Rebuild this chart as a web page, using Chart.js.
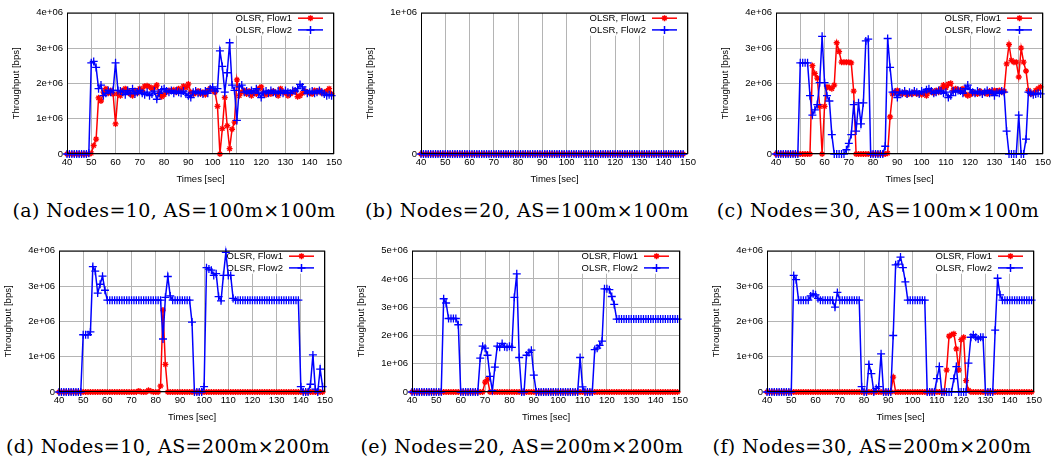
<!DOCTYPE html>
<html>
<head>
<meta charset="utf-8">
<script src="https://cdn.jsdelivr.net/npm/chart.js@4/dist/chart.umd.min.js"></script>
<style>
body { margin: 0; background: #fff; width: 1062px; height: 466px; position: relative; overflow: hidden; }
canvas { position: absolute; }
.cap { position: absolute; font-family: "DejaVu Serif", serif; font-size: 19px; letter-spacing: 0.4px;
       white-space: nowrap; transform: translateX(-50%); color: #000; line-height: 22px; }
</style>
</head>
<body>
<script>
// sample times [sec]
const times = [
  40, 41, 42, 43, 44, 45, 46, 47, 48, 49,
  50, 51, 52, 53, 54, 55, 56, 57, 58, 59,
  60, 61, 62, 63, 64, 65, 66, 67, 68, 69,
  70, 71, 72, 73, 74, 75, 76, 77, 78, 79,
  80, 81, 82, 83, 84, 85, 86, 87, 88, 89,
  90, 91, 92, 93, 94, 95, 96, 97, 98, 99,
  100, 101, 102, 103, 104, 105, 106, 107, 108, 109,
  110, 111, 112, 113, 114, 115, 116, 117, 118, 119,
  120, 121, 122, 123, 124, 125, 126, 127, 128, 129,
  130, 131, 132, 133, 134, 135, 136, 137, 138, 139,
  140, 141, 142, 143, 144, 145, 146, 147, 148, 149
];

// throughput values, in units of 1e+06 bps
const aFlow1 = [
  0, 0, 0, 0, 0, 0, 0, 0, 0, 0,
  0.02, 0.24, 0.42, 1.59, 1.5, 1.75, 1.85, 1.72, 1.8, 1.7,
  0.85, 1.7, 1.65, 1.8, 1.85, 1.78, 1.7, 1.65, 1.8, 1.72,
  1.85, 1.8, 1.92, 1.93, 1.9, 1.85, 1.88, 1.95, 1.7, 1.62,
  1.68, 1.75, 1.8, 1.78, 1.82, 1.75, 1.85, 1.8, 1.92, 1.88,
  1.98, 1.75, 1.7, 1.72, 1.78, 1.7, 1.75, 1.68, 1.8, 1.85,
  1.8, 1.75, 1.35, 0, 0.72, 1.6, 0.8, 0.15, 0.7, 0.9,
  2.1, 1.65, 1.75, 1.8, 1.7, 1.78, 1.65, 1.75, 1.7, 1.85,
  1.9, 1.72, 1.68, 1.75, 1.7, 1.78, 1.72, 1.65, 1.85, 1.75,
  1.72, 1.65, 1.7, 1.75, 1.8, 1.62, 1.65, 1.72, 1.78, 1.75,
  1.72, 1.7, 1.8, 1.75, 1.8, 1.72, 1.75, 1.78, 1.85, 1.7
];
const aFlow2 = [
  0, 0, 0, 0, 0, 0, 0, 0, 0, 0.02,
  2.58, 2.62, 2.45, 1.85, 1.95, 1.65, 1.72, 1.8, 1.75, 1.8,
  2.58, 1.8, 1.78, 1.75, 1.68, 1.8, 1.72, 1.85, 1.7, 1.75,
  1.8, 1.72, 1.68, 1.75, 1.65, 1.7, 1.78, 1.55, 1.72, 1.82,
  1.85, 1.78, 1.75, 1.8, 1.72, 1.78, 1.75, 1.72, 1.78, 1.7,
  1.65, 1.6, 1.75, 1.78, 1.72, 1.75, 1.7, 1.78, 1.72, 1.85,
  1.9, 1.78, 1.85, 2.92, 2.48, 1.75, 2.3, 3.15, 1.95, 1.8,
  0.95, 1.9, 1.95, 1.75, 1.78, 1.72, 1.8, 1.75, 1.85, 1.72,
  1.6, 1.75, 1.78, 1.72, 1.8, 1.75, 1.72, 1.78, 1.75, 1.72,
  1.8, 1.75, 1.72, 1.8, 1.78, 1.85, 1.97, 1.9, 1.8, 1.72,
  1.75, 1.78, 1.72, 1.75, 1.8, 1.75, 1.7, 1.65, 1.68, 1.65
];

const bFlow1 = [
  0, 0, 0, 0, 0, 0, 0, 0, 0, 0,
  0, 0, 0, 0, 0, 0, 0, 0, 0, 0,
  0, 0, 0, 0, 0, 0, 0, 0, 0, 0,
  0, 0, 0, 0, 0, 0, 0, 0, 0, 0,
  0, 0, 0, 0, 0, 0, 0, 0, 0, 0,
  0, 0, 0, 0, 0, 0, 0, 0, 0, 0,
  0, 0, 0, 0, 0, 0, 0, 0, 0, 0,
  0, 0, 0, 0, 0, 0, 0, 0, 0, 0,
  0, 0, 0, 0, 0, 0, 0, 0, 0, 0,
  0, 0, 0, 0, 0, 0, 0, 0, 0, 0,
  0, 0, 0, 0, 0, 0, 0, 0, 0
];
const bFlow2 = [
  0, 0, 0, 0, 0, 0, 0, 0, 0, 0,
  0, 0, 0, 0, 0, 0, 0, 0, 0, 0,
  0, 0, 0, 0, 0, 0, 0, 0, 0, 0,
  0, 0, 0, 0, 0, 0, 0, 0, 0, 0,
  0, 0, 0, 0, 0, 0, 0, 0, 0, 0,
  0, 0, 0, 0, 0, 0, 0, 0, 0, 0,
  0, 0, 0, 0, 0, 0, 0, 0, 0, 0,
  0, 0, 0, 0, 0, 0, 0, 0, 0, 0,
  0, 0, 0, 0, 0, 0, 0, 0, 0, 0,
  0, 0, 0, 0, 0, 0, 0, 0, 0, 0,
  0, 0, 0, 0, 0, 0, 0, 0, 0
];

const cFlow1 = [
  0, 0, 0, 0, 0, 0, 0, 0, 0, 0,
  0, 0, 0, 0, 0, 2.5, 2.28, 2.15, 1.35, 0,
  1.35, 1.9, 1.88, 1.85, 1.95, 3.15, 2.9, 2.6, 2.6, 2.6,
  2.6, 2.58, 1.78, 0, 0, 0, 0, 0, 0, 0,
  0, 0, 0, 0, 0, 0, 0.02, 1.05, 1.7, 1.75,
  1.8, 1.72, 1.7, 1.75, 1.68, 1.72, 1.7, 1.75, 1.7, 1.72,
  1.68, 1.72, 1.65, 1.75, 1.78, 1.72, 1.8, 1.75, 1.85, 1.95,
  1.88, 1.98, 2.0, 1.8, 1.85, 1.82, 1.78, 1.85, 1.7, 1.65,
  1.68, 1.75, 1.72, 1.7, 1.78, 1.72, 1.75, 1.7, 1.78, 1.72,
  1.8, 1.78, 1.8, 1.75, 1.78, 2.55, 3.1, 2.65, 2.6, 2.6,
  2.18, 3.0, 2.6, 2.35, 1.8, 1.7, 1.72, 1.8, 1.85, 1.9
];
const cFlow2 = [
  0, 0, 0, 0, 0, 0, 0, 0, 0, 0,
  2.58, 2.58, 2.58, 2.58, 1.65, 1.1, 1.25, 1.4, 2.02, 3.33,
  2.02, 1.65, 1.5, 0.55, 0, 0, 0, 0, 0, 0.12,
  0.3, 0.55, 1.4, 0.65, 1.45, 0.85, 1.45, 3.2, 3.25, 0,
  0, 0, 0, 0, 0, 0.22, 3.27, 2.45, 1.75, 1.75,
  1.6, 1.75, 1.72, 1.78, 1.7, 1.75, 1.72, 1.78, 1.75, 1.7,
  1.78, 1.75, 1.82, 1.85, 1.78, 1.72, 1.75, 1.8, 1.78, 1.72,
  1.75, 1.6, 1.65, 1.78, 1.75, 1.8, 1.78, 1.72, 1.85, 1.95,
  1.82, 1.75, 1.72, 1.78, 1.75, 1.7, 1.75, 1.8, 1.72, 1.78,
  1.65, 1.75, 1.72, 1.78, 1.75, 0.65, 0, 0, 0, 0,
  1.1, 0, 0, 0.42, 1.75, 1.72, 1.68, 1.7, 1.72, 1.7
];

const dFlow1 = [
  0, 0, 0, 0, 0, 0, 0, 0, 0, 0,
  0, 0, 0, 0, 0, 0, 0, 0, 0, 0,
  0, 0, 0, 0, 0, 0, 0, 0, 0, 0,
  0, 0, 0, 0.03, 0, 0, 0, 0.05, 0.02, 0,
  0, 0, 0.17, 2.32, 0.78, 0, 0, 0, 0, 0,
  0, 0, 0, 0, 0, 0, 0, 0, 0, 0,
  0, 0, 0, 0, 0, 0, 0, 0, 0, 0,
  0, 0, 0, 0, 0, 0, 0, 0, 0, 0,
  0, 0, 0, 0, 0, 0, 0, 0, 0, 0,
  0, 0, 0, 0, 0, 0, 0, 0, 0, 0,
  0, 0, 0, 0, 0, 0, 0, 0, 0, 0
];
const dFlow2 = [
  0, 0, 0, 0, 0, 0, 0, 0, 0, 0,
  1.62, 1.62, 1.62, 1.7, 3.55, 3.42, 2.8, 3.05, 3.28, 2.88,
  2.6, 2.6, 2.6, 2.6, 2.6, 2.6, 2.6, 2.6, 2.6, 2.6,
  2.6, 2.6, 2.6, 2.6, 2.6, 2.6, 2.6, 2.6, 2.6, 2.6,
  2.6, 2.6, 2.6, 1.5, 2.68, 3.27, 2.72, 2.6, 2.6, 2.6,
  2.6, 2.6, 2.6, 2.6, 2.6, 1.98, 0, 0, 0, 0,
  0.15, 3.52, 3.48, 3.45, 3.3, 3.35, 2.7, 2.58, 3.3, 3.95,
  3.3, 3.3, 2.65, 2.6, 2.6, 2.6, 2.6, 2.6, 2.6, 2.6,
  2.6, 2.6, 2.6, 2.6, 2.6, 2.6, 2.6, 2.6, 2.6, 2.6,
  2.6, 2.6, 2.6, 2.6, 2.6, 2.6, 2.6, 2.6, 2.6, 2.6,
  0.15, 0, 0, 0, 0.22, 1.05, 0.08, 0, 0.65, 0.15
];

const eFlow1 = [
  0, 0, 0, 0, 0, 0, 0, 0, 0, 0,
  0, 0, 0, 0, 0, 0, 0, 0, 0, 0,
  0, 0, 0, 0, 0, 0, 0, 0, 0, 0,
  0.35, 0.45, 0, 0, 0, 0, 0, 0, 0, 0,
  0, 0, 0, 0, 0, 0, 0, 0, 0, 0,
  0, 0, 0, 0, 0, 0, 0, 0, 0, 0,
  0, 0, 0, 0, 0, 0, 0, 0, 0, 0,
  0, 0, 0, 0, 0, 0, 0, 0, 0, 0,
  0, 0, 0, 0, 0, 0, 0, 0, 0, 0,
  0, 0, 0, 0, 0, 0, 0, 0, 0, 0,
  0, 0, 0, 0, 0, 0, 0, 0, 0, 0
];
const eFlow2 = [
  0, 0, 0, 0, 0, 0, 0, 0, 0, 0,
  0, 0, 0, 3.3, 3.15, 2.6, 2.6, 2.6, 2.6, 2.38,
  0, 0, 0, 0, 0, 0, 0, 0, 1.2, 1.62,
  1.55, 1.3, 0.55, 0.05, 0.88, 1.62, 1.58, 1.72, 1.6, 1.58,
  1.62, 1.58, 3.35, 4.18, 1.22, 0, 0, 1.3, 1.4, 1.48,
  0.6, 0, 0, 0, 0, 0, 0, 0, 0, 0,
  0, 0, 0, 0, 0, 0, 0, 0, 0, 1.22,
  0.18, 0, 0, 0, 0, 1.5, 1.55, 1.65, 1.8, 3.65,
  3.65, 3.62, 3.38, 3.1, 2.58, 2.58, 2.58, 2.58, 2.58, 2.58,
  2.58, 2.58, 2.58, 2.58, 2.58, 2.58, 2.58, 2.58, 2.58, 2.58,
  2.58, 2.58, 2.58, 2.58, 2.58, 2.58, 2.58, 2.58, 2.58, 2.58
];

const fFlow1 = [
  0, 0, 0, 0, 0, 0, 0, 0, 0, 0,
  0, 0, 0, 0, 0, 0, 0, 0, 0, 0,
  0, 0, 0, 0, 0, 0, 0, 0, 0, 0,
  0, 0, 0, 0, 0, 0, 0, 0, 0, 0,
  0, 0, 0, 0, 0, 0, 0, 0, 0, 0,
  0, 0, 0.42, 0, 0, 0, 0, 0, 0, 0,
  0, 0, 0, 0, 0, 0, 0, 0, 0, 0,
  0, 0, 0, 0, 0.62, 1.58, 1.62, 1.65, 1.22, 0.62,
  1.48, 1.55, 0.32, 0.05, 0, 0, 0, 0, 0, 0,
  0, 0, 0, 0, 0, 0, 0, 0, 0, 0,
  0, 0, 0, 0, 0, 0, 0, 0, 0, 0
];
const fFlow2 = [
  0, 0, 0, 0, 0, 0, 0, 0, 0, 0,
  0, 3.3, 3.18, 2.6, 2.6, 2.6, 2.6, 2.6, 2.72, 2.78,
  2.75, 2.65, 2.6, 2.6, 2.6, 2.6, 2.6, 2.6, 2.4, 2.82,
  2.6, 2.6, 2.6, 2.6, 2.6, 2.6, 2.6, 2.6, 2.6, 0.15,
  0, 0, 0.78, 0.52, 0, 0.1, 0.15, 1.08, 0, 0,
  0, 0, 1.6, 3.6, 3.62, 3.82, 3.52, 3.12, 2.6, 2.6,
  2.6, 2.6, 2.6, 2.6, 2.6, 2.6, 0, 0, 0, 0,
  0.38, 0.72, 0, 0, 0, 0, 0, 0.38, 0.72, 0,
  0, 0, 0, 0.82, 1.55, 1.62, 1.55, 1.5, 1.55, 1.55,
  0, 0, 0, 0, 1.75, 3.22, 2.75, 2.6, 2.6, 2.6,
  2.6, 2.6, 2.6, 2.6, 2.6, 2.6, 2.6, 2.6, 2.6, 2.6
];

// y axis top of each panel, in 1e+06 bps
const yMax = { a: 4, b: 1, c: 4, d: 4, e: 5, f: 4 };

const captions = {
  a: '(a) Nodes=10, AS=100m\u00d7100m',
  b: '(b) Nodes=20, AS=100m\u00d7100m',
  c: '(c) Nodes=30, AS=100m\u00d7100m',
  d: '(d) Nodes=10, AS=200m\u00d7200m',
  e: '(e) Nodes=20, AS=200m\u00d7200m',
  f: '(f) Nodes=30, AS=200m\u00d7200m'
};

// page layout (canvas origin, plot width, caption centre)
const AXIS_W = 56, AXIS_H = 31, PAD_T = 8, PAD_R = 12, PLOT_H = 143;
const layout = [
  { id: 'a', f1: aFlow1, f2: aFlow2, left: 11,  top: 3,   plotW: 267, capX: 174, capY: 199 },
  { id: 'b', f1: bFlow1, f2: bFlow2, left: 365, top: 3,   plotW: 267, capX: 527, capY: 199 },
  { id: 'c', f1: cFlow1, f2: cFlow2, left: 720, top: 3,   plotW: 267, capX: 878, capY: 199 },
  { id: 'd', f1: dFlow1, f2: dFlow2, left: 3,   top: 241, plotW: 266, capX: 168, capY: 435 },
  { id: 'e', f1: eFlow1, f2: eFlow2, left: 356, top: 241, plotW: 268, capX: 522, capY: 435 },
  { id: 'f', f1: fFlow1, f2: fFlow2, left: 711, top: 241, plotW: 267, capX: 872, capY: 435 }
];

Chart.defaults.font.family = '"Liberation Sans", Arial, sans-serif';
Chart.defaults.color = '#000';

const smallFont = { size: 9.5 };
const KEY_FONT = '9.5px "Liberation Sans", Arial, sans-serif';

// black border round the plot area, gnuplot style
const framePlugin = {
  id: 'frame',
  afterDatasetsDraw(chart) {
    const a = chart.chartArea;
    const ctx = chart.ctx;
    ctx.save();
    ctx.strokeStyle = '#000';
    ctx.lineWidth = 1;
    ctx.strokeRect(a.left + 0.5, a.top + 0.5, a.width - 1, a.height - 1);
    ctx.restore();
  }
};

// key in the top right corner: blanks the grid, then the data is drawn over it
const keyPlugin = {
  id: 'key',
  beforeDatasetsDraw(chart) {
    const a = chart.chartArea;
    const ctx = chart.ctx;
    const textRight = a.right - 42;
    ctx.save();
    ctx.font = KEY_FONT;
    const w = Math.max(...chart.data.datasets.map(ds => ctx.measureText(ds.label).width));
    ctx.fillStyle = '#fff';
    ctx.fillRect(textRight - w - 2, a.top + 1, a.right - 1 - (textRight - w - 2), 22);
    chart.data.datasets.forEach((ds, i) => {
      const y = a.top + 5.5 + i * 11.7;
      ctx.fillStyle = '#000';
      ctx.textAlign = 'right';
      ctx.textBaseline = 'middle';
      ctx.fillText(ds.label, textRight, y);
      ctx.strokeStyle = ds.borderColor;
      ctx.fillStyle = ds.borderColor;
      ctx.lineWidth = 1.5;
      ctx.beginPath();
      ctx.moveTo(a.right - 36, y);
      ctx.lineTo(a.right - 11, y);
      ctx.stroke();
      Chart.helpers.drawPoint(ctx, { pointStyle: ds.pointStyle, radius: ds.pointRadius, borderWidth: ds.pointBorderWidth, rotation: 0 }, a.right - 23.5, y);
    });
    ctx.restore();
  }
};

function toPoints(vals) {
  return vals.map((v, i) => ({ x: times[i], y: v * 1e6 }));
}

function makePanel(p) {
  const cv = document.createElement('canvas');
  cv.width = AXIS_W + p.plotW + PAD_R;
  cv.height = PAD_T + PLOT_H + AXIS_H;
  cv.style.left = p.left + 'px';
  cv.style.top = p.top + 'px';
  document.body.appendChild(cv);

  new Chart(cv, {
    type: 'line',
    data: {
      datasets: [{
        label: 'OLSR, Flow1',
        data: toPoints(p.f1),
        borderColor: '#ff0000',
        backgroundColor: '#ff0000',
        borderWidth: 1.5,
        pointStyle: 'star',
        pointRadius: 3,
        pointBorderWidth: 1.3,
        tension: 0,
        clip: 8,
        order: 1
      }, {
        label: 'OLSR, Flow2',
        data: toPoints(p.f2),
        borderColor: '#0000ff',
        backgroundColor: '#0000ff',
        borderWidth: 1.5,
        pointStyle: 'cross',
        pointRadius: 4,
        pointBorderWidth: 1.3,
        tension: 0,
        clip: 8,
        order: 0
      }]
    },
    options: {
      responsive: false,
      animation: false,
      devicePixelRatio: 1,
      layout: { padding: { top: PAD_T, right: PAD_R, left: 0, bottom: 0 } },
      plugins: { legend: { display: false }, tooltip: { enabled: false } },
      scales: {
        x: {
          type: 'linear',
          min: 40,
          max: 150,
          ticks: { stepSize: 10, font: smallFont, padding: 3, maxRotation: 0 },
          grid: { color: '#b4b4b4', drawTicks: false },
          border: { display: false },
          title: { display: true, text: 'Times [sec]', font: smallFont, padding: 0 },
          afterFit: s => { s.height = AXIS_H; }
        },
        y: {
          min: 0,
          max: yMax[p.id] * 1e6,
          ticks: {
            stepSize: 1e6,
            font: smallFont,
            padding: 4,
            callback: v => v === 0 ? '0' : (v / 1e6) + 'e+06'
          },
          grid: { color: '#b4b4b4', drawTicks: false },
          border: { display: false },
          title: { display: true, text: 'Throughput [bps]', font: smallFont, padding: 0 },
          afterFit: s => { s.width = AXIS_W; }
        }
      }
    },
    plugins: [framePlugin, keyPlugin]
  });

  const cap = document.createElement('div');
  cap.className = 'cap';
  cap.style.left = p.capX + 'px';
  cap.style.top = p.capY + 'px';
  cap.textContent = captions[p.id];
  document.body.appendChild(cap);
}

layout.forEach(makePanel);
</script>
</body>
</html>
